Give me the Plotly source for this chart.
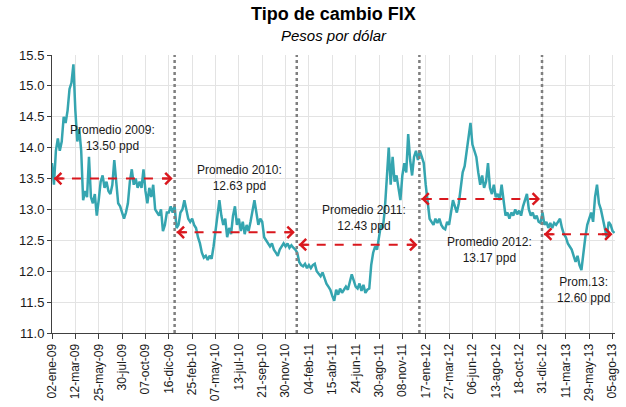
import plotly.graph_objects as go

step_days = 4
fix_values = [
    # 02-ene-09 .. 12-mar-09
    13.75, 13.40, 13.95, 14.15, 13.95, 14.10, 14.50, 14.40, 14.60, 14.95, 15.05, 15.35,
    # 12-mar-09 .. 25-may-09
    14.60, 14.10, 14.30, 13.95, 13.15, 13.30, 13.20, 13.85, 13.20, 13.10, 13.25, 12.90,
    # 25-may-09 .. 30-jul-09
    13.15, 13.45, 13.55, 13.35, 13.45, 13.30, 13.25, 13.40, 13.80, 13.45, 13.10, 13.05,
    # 30-jul-09 .. 07-oct-09
    12.95, 12.85, 12.95, 13.10, 13.45, 13.65, 13.40, 13.50, 13.35, 13.45, 13.35, 13.65,
    # 07-oct-09 .. 16-dic-09
    13.30, 13.10, 13.35, 13.20, 13.40, 13.00, 12.95, 12.90, 13.00, 12.65, 12.75, 12.95,
    # 16-dic-09 .. 25-feb-10
    12.95, 13.05, 12.95, 13.05, 12.70, 12.75, 12.95, 13.00, 13.15, 13.00, 12.85, 12.80,
    # 25-feb-10 .. 07-may-10
    12.85, 12.75, 12.70, 12.55, 12.45, 12.30, 12.22, 12.25, 12.18, 12.25, 12.20, 12.40,
    # 07-may-10 .. 13-jul-10
    12.70, 12.90, 13.15, 12.90, 12.75, 12.85, 12.55, 12.70, 12.60, 12.90, 13.05, 12.75,
    # 13-jul-10 .. 21-sep-10
    12.85, 12.65, 12.80, 12.60, 12.75, 12.65, 12.80, 12.95, 13.15, 12.95, 12.75, 12.85,
    # 21-sep-10 .. 30-nov-10
    12.80, 12.55, 12.50, 12.45, 12.40, 12.45, 12.35, 12.30, 12.25, 12.35, 12.40, 12.45,
    # 30-nov-10 .. 04-feb-11
    12.40, 12.45, 12.38, 12.42, 12.38, 12.35, 12.30, 12.15, 12.10, 12.08, 12.12, 12.05,
    # 04-feb-11 .. 15-abr-11
    12.10, 12.05, 12.10, 12.12, 12.00, 11.95, 11.92, 11.98, 11.88, 11.80, 11.75, 11.70,
    # 15-abr-11 .. 24-jun-11
    11.60, 11.52, 11.70, 11.62, 11.72, 11.65, 11.70, 11.75, 11.70, 11.85, 11.95, 11.85,
    # 24-jun-11 .. 30-ago-11
    11.75, 11.72, 11.80, 11.68, 11.78, 11.65, 11.70, 11.72, 12.10, 12.30, 12.40, 12.35,
    # 30-ago-11 .. 08-nov-11
    12.55, 12.75, 12.70, 13.00, 13.50, 14.00, 13.40, 13.85, 13.45, 13.55, 13.35, 13.15,
    # 08-nov-11 .. 17-ene-12
    13.55, 13.75, 13.60, 14.22, 13.80, 13.55, 13.85, 13.95, 13.80, 13.95, 13.85, 13.75,
    # 17-ene-12 .. 27-mar-12
    13.40, 13.10, 12.85, 12.80, 12.75, 12.85, 12.78, 12.85, 12.75, 12.70, 12.68, 12.80,
    # 27-mar-12 .. 06-jun-12
    12.75, 12.95, 13.15, 13.05, 12.95, 13.10, 13.40, 13.60, 13.70, 13.95, 14.15, 14.40,
    # 06-jun-12 .. 13-ago-12
    14.05, 13.95, 13.85, 13.60, 13.40, 13.55, 13.35, 13.45, 13.75, 13.35, 13.25, 13.40,
    # 13-ago-12 .. 18-oct-12
    13.20, 13.25, 13.15, 13.40, 13.10, 12.90, 12.95, 12.85, 12.95, 12.90, 13.00, 12.92,
    # 18-oct-12 .. 31-dic-12
    12.98, 12.90, 13.05, 13.15, 13.25, 13.00, 12.90, 12.95, 12.85, 12.90, 12.80, 12.78,
    # 31-dic-12 .. 11-mar-13
    12.95, 12.75, 12.80, 12.70, 12.78, 12.70, 12.78, 12.75, 12.80, 12.85, 12.70, 12.60,
    # 11-mar-13 .. 29-may-13
    12.55, 12.45, 12.40, 12.35, 12.25, 12.15, 12.25, 12.10, 12.02, 12.30, 12.55, 12.75,
    # 29-may-13 .. 13-ago-13
    12.85, 12.95, 12.80, 13.20, 13.40, 13.10, 13.00, 12.85, 12.70, 12.55, 12.80, 12.75, 12.65, 12.62,
]

tick_labels = ["02-ene-09", "12-mar-09", "25-may-09", "30-jul-09", "07-oct-09", "16-dic-09",
               "25-feb-10", "07-may-10", "13-jul-10", "21-sep-10", "30-nov-10", "04-feb-11",
               "15-abr-11", "24-jun-11", "30-ago-11", "08-nov-11", "17-ene-12", "27-mar-12",
               "06-jun-12", "13-ago-12", "18-oct-12", "31-dic-12", "11-mar-13", "29-may-13",
               "05-ago-13"]
tick_every_days = 48

# trading-day index where each new year starts (year boundaries)
year_start_day = [252, 503, 755, 1007]

# yearly averages
years = ["2009", "2010", "2011", "2012", "2013"]
year_avgs = [13.50, 12.63, 12.43, 13.17, 12.60]
avg_labels = ["Promedio 2009:<br>13.50 ppd", "Promedio 2010:<br>12.63 ppd",
              "Promedio 2011:<br>12.43 ppd", "Promedio 2012:<br>13.17 ppd",
              "Prom.13:<br>12.60 ppd"]

title_text = "Tipo de cambio FIX"
subtitle_text = "Pesos por dólar"

# ---- figure ----
x_days = [i * step_days for i in range(len(fix_values))]
last_day = x_days[-1]
FONT = "Liberation Sans, Arial, sans-serif"
RED = "#D9181E"

fig = go.Figure()
fig.add_trace(go.Scatter(x=x_days, y=fix_values, mode="lines",
                         line=dict(color="#35A5B0", width=2.5), hoverinfo="skip",
                         showlegend=False))

bounds = [0] + year_start_day + [last_day]
seg_pad = 4
for k, avg in enumerate(year_avgs):
    x0 = bounds[k] + seg_pad
    x1 = bounds[k + 1] - seg_pad
    fig.add_trace(go.Scatter(x=[x0, x1], y=[avg, avg], mode="lines",
                             line=dict(color=RED, width=2, dash="dash"),
                             hoverinfo="skip", showlegend=False))
    for xe, off in ((x0, 12), (x1, -12)):
        fig.add_annotation(x=xe, y=avg, xref="x", yref="y", ax=off, ay=0,
                           showarrow=True, arrowhead=4, arrowsize=1.1, arrowwidth=2,
                           arrowcolor=RED, text="")

for d in year_start_day:
    fig.add_shape(type="line", x0=d, x1=d, y0=0, y1=1, xref="x", yref="paper",
                  line=dict(color="#7F7F7F", width=2.5, dash="dot"), layer="above")

label_pos = [(125, 14.16), (386, 13.51), (641, 12.86), (900, 12.34), (1093, 11.70)]
for (lx, ly), txt in zip(label_pos, avg_labels):
    fig.add_annotation(x=lx, y=ly, xref="x", yref="y", text=txt, showarrow=False,
                       font=dict(family=FONT, size=12, color="#1a1a1a"), align="center")

# title and subtitle
fig.add_annotation(x=0.5, y=1, xref="paper", yref="paper", yshift=41, text="<b>" + title_text + "</b>",
                   showarrow=False, xanchor="center", yanchor="middle",
                   font=dict(family=FONT, size=18, color="black"))
fig.add_annotation(x=0.5, y=1, xref="paper", yref="paper", yshift=20, text="<i>" + subtitle_text + "</i>",
                   showarrow=False, xanchor="center", yanchor="middle",
                   font=dict(family=FONT, size=15, color="black"))

fig.update_layout(
    width=626, height=407,
    margin=dict(l=52, r=11, t=55, b=74, autoexpand=False),
    paper_bgcolor="white", plot_bgcolor="white",
    font=dict(family=FONT, size=12, color="#1a1a1a"),
    xaxis=dict(range=[0, 1157], tickmode="array",
               tickvals=[i * tick_every_days for i in range(len(tick_labels))],
               ticktext=tick_labels, tickangle=-90, automargin=False,
               showgrid=True, gridcolor="#E3E3E3", gridwidth=1,
               showline=True, linecolor="#404040", linewidth=1,
               ticks="outside", ticklen=5, tickcolor="#404040",
               tickfont=dict(family=FONT, size=12, color="#1a1a1a"), zeroline=False),
    yaxis=dict(range=[11.0, 15.5], dtick=0.5, tick0=11.0, tickformat=".1f",
               automargin=False,
               showgrid=True, gridcolor="#E3E3E3", gridwidth=1,
               showline=True, linecolor="#404040", linewidth=1,
               ticks="outside", ticklen=4, tickcolor="#404040",
               tickfont=dict(family=FONT, size=13, color="#1a1a1a"), zeroline=False),
)

fig.write_html("out.html", config={"displayModeBar": False},
               post_script="document.body.style.margin='0';")
